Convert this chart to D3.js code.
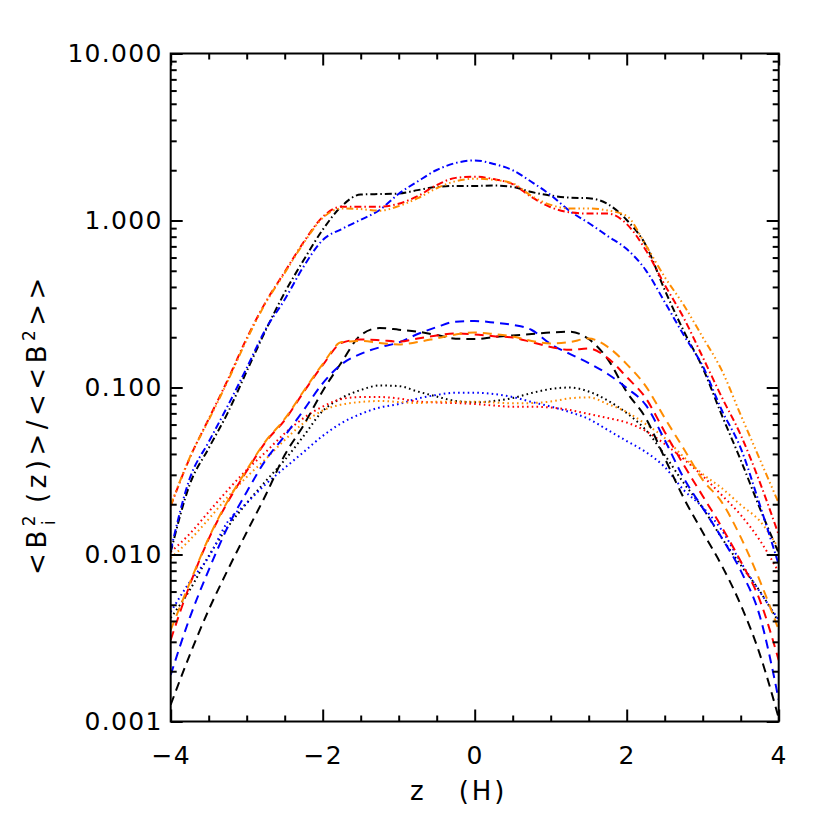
<!DOCTYPE html>
<html>
<head>
<meta charset="utf-8">
<script src="https://cdn.jsdelivr.net/npm/d3@7"></script>
<style>
  html, body { margin: 0; padding: 0; background: #fff; }
  svg { display: block; }
  text { font-family: "DejaVu Sans", sans-serif; fill: #000; }
</style>
</head>
<body>
<svg id="chart" width="830" height="830"></svg>
<script>
// ---------------- data ----------------
const zValues = [-4, -3.75, -3.5, -3.25, -3, -2.75, -2.5, -2.25, -2, -1.75, -1.5, -1.25, -1, -0.75, -0.5, -0.25,
  0, 0.25, 0.5, 0.75, 1, 1.25, 1.5, 1.75, 2, 2.25, 2.5, 2.75, 3, 3.25, 3.5, 3.75, 4];

// upper group (dash-dot)
const blackDashDot = [0.01035, 0.0262, 0.0433, 0.0705, 0.125, 0.22, 0.37, 0.58, 0.88, 1.22, 1.43, 1.44, 1.45, 1.52, 1.59, 1.61,
  1.61, 1.62, 1.59, 1.48, 1.41, 1.37, 1.36, 1.255, 1.007, 0.714, 0.384, 0.218, 0.131, 0.0685, 0.0368, 0.019, 0.0102];
const blueDashDot = [0.0106, 0.0285, 0.0472, 0.0775, 0.131, 0.224, 0.336, 0.531, 0.764, 0.889, 1.01, 1.156, 1.446, 1.714, 2.006, 2.21,
  2.29, 2.18, 2.0, 1.70, 1.42, 1.14, 0.966, 0.807, 0.675, 0.505, 0.325, 0.206, 0.1345, 0.0733, 0.0434, 0.0199, 0.0087];
const redDashDot = [0.0195, 0.0378, 0.0648, 0.111, 0.197, 0.325, 0.492, 0.743, 1.05, 1.21, 1.21, 1.21, 1.26, 1.40, 1.63, 1.80,
  1.83, 1.77, 1.65, 1.38, 1.20, 1.12, 1.10, 1.10, 0.953, 0.666, 0.412, 0.261, 0.152, 0.0877, 0.052, 0.0272, 0.0131];
const orangeDashDot = [0.0197, 0.038, 0.0638, 0.109, 0.193, 0.321, 0.485, 0.733, 1.035, 1.18, 1.17, 1.145, 1.22, 1.36, 1.56, 1.72,
  1.78, 1.75, 1.67, 1.40, 1.24, 1.18, 1.18, 1.148, 1.064, 0.713, 0.459, 0.312, 0.2, 0.127, 0.0685, 0.0373, 0.0203];

// middle group (dashed)
const blackDashed = [0.00126, 0.0025, 0.00466, 0.00807, 0.0136, 0.0227, 0.0394, 0.0596, 0.0953, 0.142, 0.206, 0.227, 0.222, 0.216, 0.206, 0.196,
  0.195, 0.2005, 0.205, 0.209, 0.2135, 0.216, 0.195, 0.148, 0.094, 0.0657, 0.0378, 0.0218, 0.0136, 0.0086, 0.005, 0.00254, 0.00105];
const blueDashed = [0.0019, 0.00417, 0.00807, 0.0146, 0.0237, 0.0368, 0.0513, 0.0733, 0.106, 0.138, 0.159, 0.174, 0.186, 0.209, 0.230, 0.248,
  0.25, 0.245, 0.237, 0.221, 0.182, 0.159, 0.140, 0.1205, 0.0993, 0.0786, 0.0485, 0.0287, 0.019, 0.0126, 0.008, 0.0043, 0.00135];
const redDashed = [0.00308, 0.00656, 0.0124, 0.0206, 0.0316, 0.0472, 0.0638, 0.094, 0.136, 0.185, 0.194, 0.192, 0.1885, 0.1965, 0.205, 0.211,
  0.208, 0.203, 0.199, 0.187, 0.175, 0.168, 0.171, 0.150, 0.1156, 0.0865, 0.0542, 0.0344, 0.0224, 0.0146, 0.0091, 0.00535, 0.00233];
const orangeDashed = [0.00353, 0.00675, 0.01256, 0.0209, 0.0321, 0.0478, 0.0648, 0.0953, 0.138, 0.187, 0.19, 0.1846, 0.181, 0.187, 0.197, 0.2077,
  0.2135, 0.209, 0.202, 0.19, 0.1834, 0.187, 0.1965, 0.175, 0.138, 0.102, 0.0657, 0.043, 0.028, 0.0206, 0.0127, 0.007, 0.00353];

// lower group (dotted)
const blackDotted = [0.00417, 0.00612, 0.0098, 0.0146, 0.0203, 0.0275, 0.0368, 0.0513, 0.0723, 0.0865, 0.0966, 0.1028, 0.102, 0.0946, 0.0883, 0.083,
  0.0815, 0.083, 0.0865, 0.0927, 0.098, 0.1, 0.0946, 0.0836, 0.0703, 0.0557, 0.0394, 0.0268, 0.019, 0.01256, 0.00865, 0.00604, 0.00394];
const blueDotted = [0.00453, 0.00684, 0.00966, 0.0157, 0.0203, 0.0264, 0.033, 0.0411, 0.0513, 0.0613, 0.0694, 0.0759, 0.0796, 0.0859, 0.0902, 0.0931,
  0.0931, 0.0914, 0.0877, 0.0819, 0.0769, 0.0713, 0.0648, 0.0557, 0.0478, 0.0411, 0.0334, 0.0243, 0.0192, 0.014, 0.009, 0.006, 0.00406];
const redDotted = [0.01035, 0.0133, 0.018, 0.0243, 0.0321, 0.0411, 0.0531, 0.0657, 0.0769, 0.0853, 0.0877, 0.0877, 0.0859, 0.0824, 0.0813, 0.0807,
  0.0796, 0.078, 0.0767, 0.0767, 0.0759, 0.0733, 0.0694, 0.0657, 0.0617, 0.0549, 0.0459, 0.0373, 0.0295, 0.0227, 0.01725, 0.0122, 0.00785];
const orangeDotted = [0.00953, 0.0122, 0.0163, 0.0221, 0.0291, 0.0373, 0.0485, 0.0613, 0.0728, 0.0791, 0.0819, 0.083, 0.0819, 0.0807, 0.0822, 0.0822,
  0.0822, 0.0813, 0.0804, 0.0807, 0.0824, 0.0861, 0.0873, 0.0796, 0.0713, 0.0604, 0.0499, 0.0384, 0.0303, 0.025, 0.0198, 0.0159, 0.0109];

const xMajorTicks = [-4, -2, 0, 2, 4];
const yMajorTicks = [0.001, 0.01, 0.1, 1, 10];
const yTickLabels = ["0.001", "0.010", "0.100", "1.000", "10.000"];

// ---------------- styling ----------------
const colors = { black: "#000000", blue: "#0000ff", red: "#ff0000", orange: "#ff8c00" };
const dashes = {
  dashdot: "7,3,1.5,3",
  dashdot3: "7,3,1.5,3,1.5,3,1.5,3",
  dashed: "9,6",
  dotted: "1.6,3.2"
};

const series = [
  { values: blackDotted, color: colors.black, dash: dashes.dotted },
  { values: blueDotted, color: colors.blue, dash: dashes.dotted },
  { values: redDotted, color: colors.red, dash: dashes.dotted },
  { values: orangeDotted, color: colors.orange, dash: dashes.dotted },
  { values: blackDashed, color: colors.black, dash: dashes.dashed },
  { values: blueDashed, color: colors.blue, dash: dashes.dashed },
  { values: redDashed, color: colors.red, dash: dashes.dashed },
  { values: orangeDashed, color: colors.orange, dash: dashes.dashed },
  { values: blackDashDot, color: colors.black, dash: dashes.dashdot },
  { values: blueDashDot, color: colors.blue, dash: dashes.dashdot },
  { values: redDashDot, color: colors.red, dash: dashes.dashdot },
  { values: orangeDashDot, color: colors.orange, dash: dashes.dashdot3 }
];

// ---------------- layout ----------------
(function draw() {
const pL = 170.7, pR = 778.7, pT = 53.5, pB = 721.5;
const svg = d3.select("#chart");

const x = d3.scaleLinear().domain([-4, 4]).range([pL, pR]);
const y = d3.scaleLog().domain([0.001, 10]).range([pB, pT]);

svg.append("clipPath").attr("id", "plotclip")
  .append("rect").attr("x", pL).attr("y", pT).attr("width", pR - pL).attr("height", pB - pT);

const line = d3.line()
  .x((d, i) => x(zValues[i]))
  .y(d => y(d))
  .curve(d3.curveMonotoneX);

const plot = svg.append("g").attr("clip-path", "url(#plotclip)");
plot.selectAll("path.series").data(series).join("path")
  .attr("class", "series")
  .attr("d", d => line(d.values))
  .attr("fill", "none")
  .attr("stroke", d => d.color)
  .attr("stroke-width", 2)
  .attr("stroke-dasharray", d => d.dash);

const yMinor = [];
for (let e = -3; e < 1; e++) for (let m = 2; m <= 9; m++) yMinor.push(m * Math.pow(10, e));
const xMinor = d3.range(-4, 4.01, 0.5).filter(v => !xMajorTicks.includes(v));

function styleAxis(g) {
  g.select(".domain").remove();
  g.selectAll(".tick line").attr("stroke", "#000").attr("stroke-width", 2);
  g.selectAll("text").attr("font-size", 25).attr("font-family", "DejaVu Sans, sans-serif")
    .attr("letter-spacing", 1.3);
}

svg.append("g").attr("transform", `translate(${pL},0)`)
  .call(d3.axisLeft(y).tickValues(yMajorTicks).tickSize(-12).tickPadding(8)
    .tickFormat((d, i) => yTickLabels[i]))
  .call(styleAxis);
svg.append("g").attr("transform", `translate(${pL},0)`)
  .call(d3.axisLeft(y).tickValues(yMinor).tickSize(-6).tickFormat(""))
  .call(styleAxis);
svg.append("g").attr("transform", `translate(${pR},0)`)
  .call(d3.axisRight(y).tickValues(yMajorTicks).tickSize(-12).tickFormat(""))
  .call(styleAxis);
svg.append("g").attr("transform", `translate(${pR},0)`)
  .call(d3.axisRight(y).tickValues(yMinor).tickSize(-6).tickFormat(""))
  .call(styleAxis);
svg.append("g").attr("transform", `translate(0,${pB})`)
  .call(d3.axisBottom(x).tickValues(xMajorTicks).tickSize(-12).tickPadding(25))
  .call(styleAxis);
svg.append("g").attr("transform", `translate(0,${pB})`)
  .call(d3.axisBottom(x).tickValues(xMinor).tickSize(-6).tickFormat(""))
  .call(styleAxis);
svg.append("g").attr("transform", `translate(0,${pT})`)
  .call(d3.axisTop(x).tickValues(xMajorTicks).tickSize(-12).tickFormat(""))
  .call(styleAxis);
svg.append("g").attr("transform", `translate(0,${pT})`)
  .call(d3.axisTop(x).tickValues(xMinor).tickSize(-6).tickFormat(""))
  .call(styleAxis);

svg.append("rect")
  .attr("x", pL).attr("y", pT).attr("width", pR - pL).attr("height", pB - pT)
  .attr("fill", "none").attr("stroke", "#000").attr("stroke-width", 2);

// x title
const xt = svg.append("text")
  .attr("x", 410).attr("y", 800)
  .attr("text-anchor", "start").attr("font-size", 26).attr("letter-spacing", 3);
xt.append("tspan").text("z");
xt.append("tspan").attr("dx", 32).text("(H)");

// y title
const yt = svg.append("text")
  .attr("transform", "translate(46,424) rotate(-90)")
  .attr("text-anchor", "middle").attr("font-size", 26)
  .attr("letter-spacing", 4.5)
  .attr("xml:space", "preserve");
yt.append("tspan").text("<B");
yt.append("tspan").attr("font-size", 17).attr("dy", -11).text("2");
yt.append("tspan").attr("font-size", 17).attr("dx", -14).attr("dy", 20).text("i");
yt.append("tspan").attr("dy", -9).text(" (z)>/<<B");
yt.append("tspan").attr("font-size", 17).attr("dy", -11).text("2");
yt.append("tspan").attr("dy", 11).text(">>");
})();
</script>
</body>
</html>
